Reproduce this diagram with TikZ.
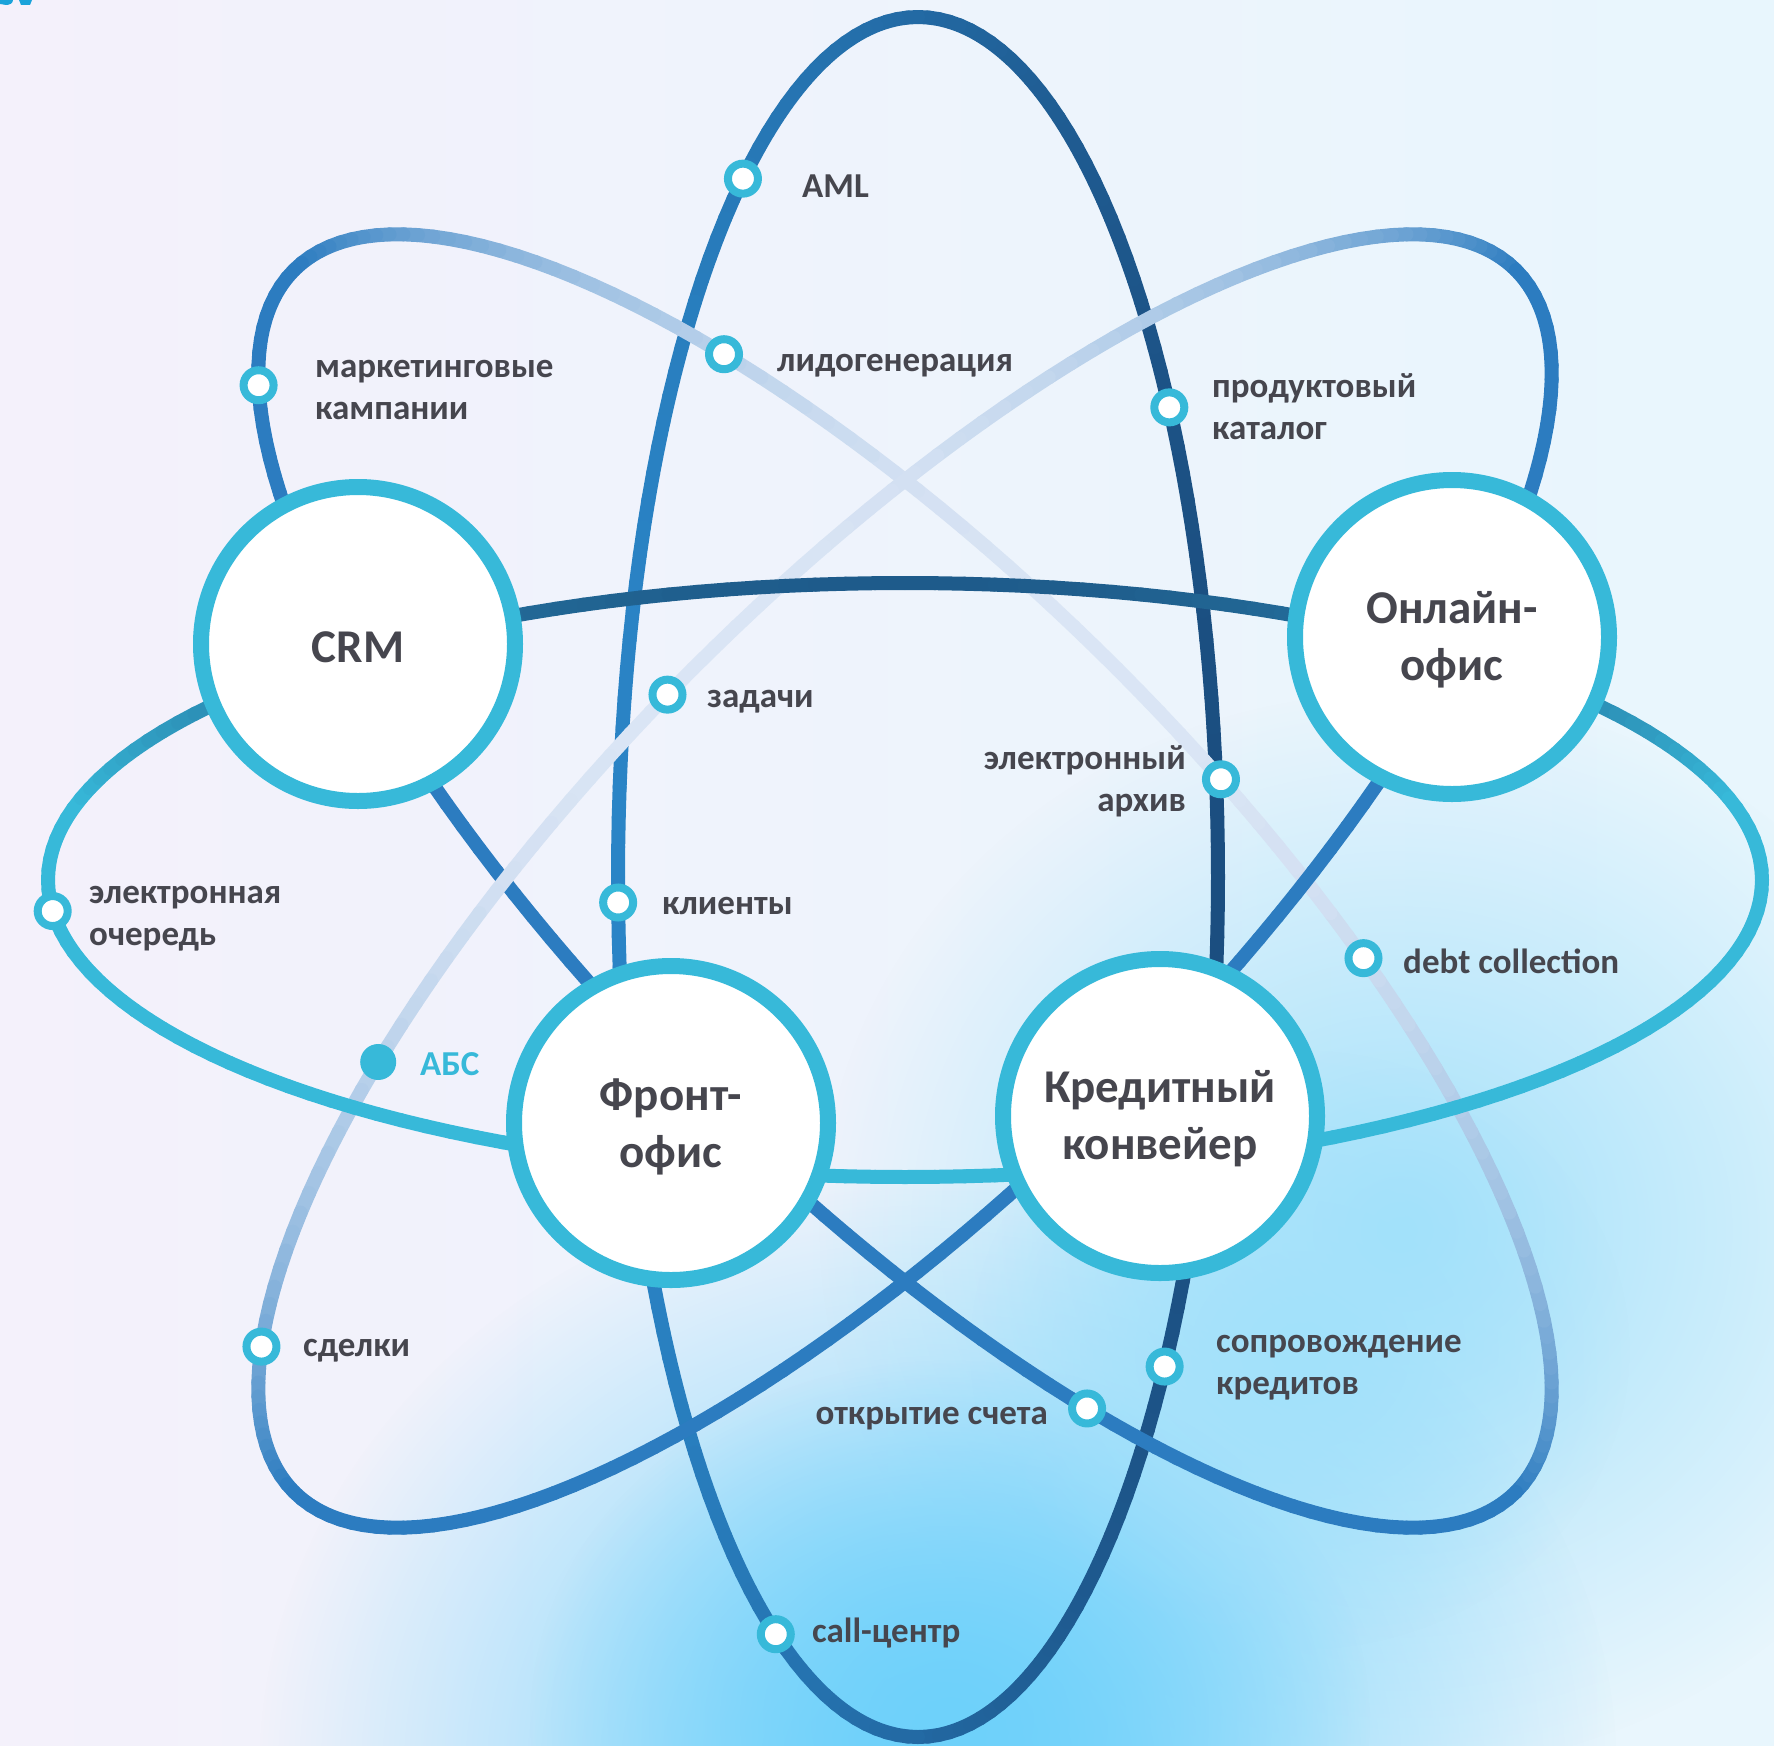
\documentclass[tikz,border=0pt]{standalone}
\usepackage{fontspec}
\setmainfont{Carlito}
\usetikzlibrary{fadings}
\definecolor{bgL}{HTML}{F4F1FB}
\definecolor{bgR}{HTML}{E8F6FD}
\definecolor{blobA}{HTML}{6ED1FA}
\definecolor{blobB}{HTML}{A2E1FA}
\definecolor{vL}{HTML}{2A84C6}
\definecolor{vR}{HTML}{1B4E80}
\definecolor{hTop}{HTML}{1E5A8A}
\definecolor{ringc}{HTML}{37B9D9}
\definecolor{dBlue}{HTML}{2C7CC0}
\definecolor{dFade}{HTML}{F0F2FB}
\definecolor{txt}{HTML}{46464E}
\definecolor{fragc}{HTML}{1AA3DA}
\tikzfading[name=radfade, inner color=transparent!0, outer color=transparent!100]
\begin{document}
\begin{tikzpicture}[x=1pt,y=-1pt,
  declare function={
    vx(\s)=918+300*sin(\s); vy(\s)=877+860*cos(\s);
    hx(\s)=905+857*cos(\s); hy(\s)=880+297*sin(\s);
    ax(\s)=905+(864*cos(\s)+300*sin(\s))/sqrt(2); ay(\s)=881+(864*cos(\s)-300*sin(\s))/sqrt(2);
    bx(\s)=905+(864*cos(\s)-300*sin(\s))/sqrt(2); by(\s)=881-(864*cos(\s)+300*sin(\s))/sqrt(2);
  },
  orbit/.style={line width=14pt, line cap=round},
  hub/.style={circle, draw=ringc, line width=16pt, fill=white, minimum size=314pt, inner sep=0pt},
  hubtext/.style={font=\bfseries\fontsize{47}{57}\selectfont, text=txt, align=center, inner sep=0pt},
  dot/.style={circle, draw=ringc, line width=8pt, fill=white, minimum size=30pt, inner sep=0pt},
  lbl/.style={font=\bfseries\fontsize{35}{42}\selectfont, text=txt, inner sep=0pt},
]
\useasboundingbox (0,0) rectangle (1774,1745);
% background
\shade[left color=bgL, right color=bgR] (0,0) rectangle (1774,1745);
\fill[blobB, path fading=radfade] (1400,1230) ellipse [x radius=580, y radius=540];
\fill[blobA, path fading=radfade] (940,1770) ellipse [x radius=680, y radius=600];
\fill[blobA, path fading=radfade] (950,1720) ellipse [x radius=420, y radius=360];
\fill[blobB, path fading=radfade] (1300,1350) ellipse [x radius=330, y radius=300];
% fragment of title at top-left corner
\fill[fragc] (0,0) -- (13,0) to[out=-90,in=0] (6,5) -- (0,4) -- cycle;
\fill[fragc] (19,0) -- (32,0) -- (30,5) -- (21,5) -- cycle;
% vertical orbit
\foreach \t in {0,2,...,358}{
  \pgfmathsetmacro\tn{\t+2}
  \pgfmathtruncatemacro\cp{max(0,min(100,(1220-vx(\t+1))/6))}
  \draw[orbit, color=vL!\cp!vR] ({vx(\t)},{vy(\t)}) -- ({vx(\tn)},{vy(\tn)});
}
% diagonal orbit (top-left to bottom-right)
\foreach \t in {0,2,...,358}{
  \pgfmathsetmacro\tn{\t+2}
  \pgfmathtruncatemacro\cp{90*max(0,sin(\t+1))}
  \draw[orbit, color=dFade!\cp!dBlue] ({ax(\t)},{ay(\t)}) -- ({ax(\tn)},{ay(\tn)});
}
% diagonal orbit (top-right to bottom-left)
\foreach \t in {0,2,...,358}{
  \pgfmathsetmacro\tn{\t+2}
  \pgfmathtruncatemacro\cp{90*max(0,sin(\t+1))}
  \draw[orbit, color=dFade!\cp!dBlue] ({bx(\t)},{by(\t)}) -- ({bx(\tn)},{by(\tn)});
}
% horizontal orbit
\foreach \t in {0,2,...,358}{
  \pgfmathsetmacro\tn{\t+2}
  \pgfmathtruncatemacro\cp{max(0,min(100,(hy(\t+1)-580)/2.2))}
  \draw[orbit, color=ringc!\cp!hTop] ({hx(\t)},{hy(\t)}) -- ({hx(\tn)},{hy(\tn)});
}
% hubs
\node[hub] (crm) at (358,644) {};
\node[hub] (online) at (1452,637) {};
\node[hub] (front) at (671,1123) {};
\node[hub] (credit) at (1160,1116) {};
\node[hubtext] (crmT) at ([yshift=-3pt]crm.center) {CRM};
\node[hubtext] (onlineT) at ([yshift=-3pt]online.center) {Онлайн-\\офис};
\node[hubtext] (frontT) at ([yshift=-4pt]front.center) {Фронт-\\офис};
\node[hubtext] (creditT) at ([yshift=-3pt]credit.center) {Кредитный\\конвейер};
% dots
\node[dot] (dAML) at ({vx(215.7)},{vy(215.7)}) {};
\node[dot] (dProd) at ({vx(123.1)},{vy(123.1)}) {};
\node[dot] (dCli) at ({vx(271.7)},{vy(271.7)}) {};
\node[dot] (dSopr) at ({vx(55.3)},{vy(55.3)}) {};
\node[dot] (dCall) at ({vx(331.7)},{vy(331.7)}) {};
\node[dot] (dLid) at ({ax(125.4)},{ay(125.4)}) {};
\node[dot] (dMark) at ({ax(200.8)},{ay(200.8)}) {};
\node[dot] (dArch) at ({ax(79.9)},{ay(79.9)}) {};
\node[dot] (dDebt) at ({ax(64.0)},{ay(64.0)}) {};
\node[dot] (dOpen) at ({ax(305.5)},{ay(305.5)}) {};
\node[dot] (dZad) at ({bx(92.4)},{by(92.4)}) {};
\node[dot] (dSdel) at ({bx(155.2)},{by(155.2)}) {};
\node[dot] (dQueue) at ({hx(174)},{hy(174)}) {};
\node[circle, fill=ringc, minimum size=36pt, inner sep=0pt] (dABS) at ({bx(125.4)},{by(125.4)}) {};
% labels
\node[lbl, anchor=west] (tAML) at (802,186) {AML};
\node[lbl, anchor=west] (tLid) at (777,366) {лидогенерация};
\node[lbl, anchor=west, align=left] (tMark) at (315,390) {маркетинговые\\кампании};
\node[lbl, anchor=west, align=left] (tProd) at (1212,407) {продуктовый\\каталог};
\node[lbl, anchor=west] (tZad) at (707,702) {задачи};
\node[lbl, anchor=east, align=right] (tArch) at (1186,781) {электронный\\архив};
\node[lbl, anchor=west] (tCli) at (662,906) {клиенты};
\node[lbl, anchor=west, align=left] (tQueue) at (89,919) {электронная\\очередь};
\node[lbl, anchor=west] (tDebt) at (1403,961) {debt collection};
\node[lbl, anchor=west, text=ringc] (tABS) at (420,1064) {АБС};
\node[lbl, anchor=west] (tSdel) at (303,1351) {сделки};
\node[lbl, anchor=west, align=left] (tSopr) at (1216,1368) {сопровождение\\кредитов};
\node[lbl, anchor=east] (tOpen) at (1048,1419) {открытие счета};
\node[lbl, anchor=west] (tCall) at (812,1633) {call-центр};
\end{tikzpicture}
\end{document}
